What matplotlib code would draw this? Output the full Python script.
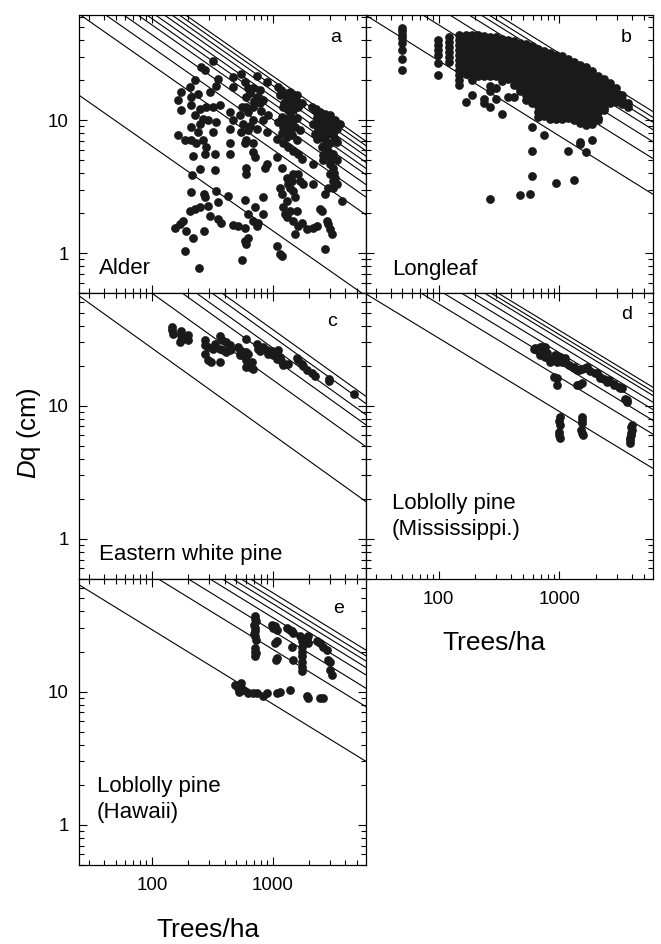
import numpy as np
import matplotlib
matplotlib.use("Agg")
import matplotlib.pyplot as plt
from matplotlib.ticker import FixedLocator, NullFormatter, LogLocator, FuncFormatter

plt.rcParams['font.family'] = ['Liberation Sans', 'DejaVu Sans']
plt.rcParams['mathtext.fontset'] = 'custom'
plt.rcParams['mathtext.it'] = 'Liberation Sans:italic'
plt.rcParams['mathtext.rm'] = 'Liberation Sans'

# ---------------- data: (trees/ha, Dq cm) ----------------
alder = [
    (321, 27.9), (257, 25.3), (274, 23.9), (226, 20.1), (206, 17.7), (353, 20.6), (342, 18.1),
    (164, 14.3), (175, 16.4), (212, 15.0), (241, 15.9), (301, 16.4), (175, 11.9), (212, 13.0),
    (249, 12.2), (283, 12.6), (321, 12.6), (365, 13.0), (226, 10.9), (265, 10.3), (292, 10.0),
    (342, 9.7), (212, 8.9), (249, 9.4), (241, 8.2), (321, 8.2), (164, 7.7), (187, 7.1), (212, 7.1),
    (265, 7.1), (233, 6.7), (283, 6.3), (219, 5.4), (274, 5.6), (332, 5.6), (249, 4.3), (332, 4.2),
    (216, 3.9), (212, 2.87), (269, 2.79), (342, 2.96), (274, 2.63), (206, 2.09), (226, 2.15),
    (249, 2.21), (292, 2.28), (353, 2.41), (301, 1.91), (353, 1.81), (377, 1.70), (154, 1.56),
    (170, 1.66), (181, 1.75), (219, 1.31), (187, 1.04), (246, 0.78), (269, 1.47), (193, 1.47),
    (471, 21.3), (552, 22.5), (589, 19.5), (471, 17.9), (628, 17.4), (746, 21.5), (892, 19.5),
    (691, 17.4), (785, 16.9), (608, 15.0), (736, 15.0), (836, 14.2), (608, 12.6), (691, 12.6),
    (442, 11.6), (535, 10.9), (628, 11.6), (785, 13.4), (471, 10.0), (570, 9.4), (691, 10.0),
    (836, 10.0), (920, 10.9), (442, 8.6), (552, 8.2), (628, 8.4), (736, 8.6), (892, 8.2),
    (608, 7.1), (691, 6.7), (442, 6.7), (589, 6.7), (691, 5.8), (713, 5.3), (608, 4.4), (892, 4.7),
    (864, 4.4), (608, 3.95), (442, 5.6), (589, 2.51), (836, 2.63), (713, 2.21), (836, 1.97),
    (628, 1.97), (518, 1.61), (589, 1.56), (691, 1.75), (736, 1.61), (760, 1.70), (471, 1.64),
    (428, 2.71), (628, 1.31), (589, 1.24), (608, 1.17), (563, 0.885),
    (650, 16.0), (700, 14.0), (560, 12.5), (800, 11.8), (650, 9.0),
    (1115, 17.9), (1166, 16.9), (1266, 15.9), (1394, 16.4), (1485, 15.0), (1307, 14.2), (1439, 13.4),
    (1227, 12.6), (1350, 11.9), (1485, 11.9), (1188, 10.6), (1307, 10.3), (1485, 10.0), (1635, 12.6),
    (1742, 13.4), (1227, 8.9), (1394, 8.4), (1533, 8.9), (1307, 7.5), (1439, 7.7), (1583, 7.1),
    (1227, 6.7), (1350, 6.3), (1485, 5.9), (1635, 5.6), (1080, 7.3), (1080, 5.3), (1188, 4.4),
    (1307, 3.7), (1439, 3.5), (1485, 3.95), (1635, 3.95), (1350, 3.3), (1394, 3.1), (1485, 2.96),
    (1151, 3.1), (1188, 2.79), (1307, 2.48), (1533, 2.63), (1227, 2.21), (1394, 2.09), (1583, 2.09),
    (1266, 1.97), (1307, 1.86), (1485, 1.75), (1635, 1.61), (1742, 1.70), (1533, 1.39), (1080, 1.14),
    (1151, 0.98), (1188, 0.95), (1742, 5.1), (1798, 3.3), (1688, 3.5),
    (1150, 15.5), (1250, 13.5), (1400, 12.8), (1550, 14.0), (1300, 9.5), (1450, 9.2), (1600, 10.5),
    (1200, 8.0), (1350, 7.8), (1700, 8.5), (1100, 9.8), (1600, 15.5), (1400, 10.8),
    (2109, 12.6), (2248, 11.9), (2475, 11.6), (2723, 11.2), (2997, 10.9), (3297, 10.0), (3514, 9.2),
    (2321, 10.6), (2555, 10.0), (2811, 9.7), (3093, 9.2), (3404, 8.6), (2178, 9.4), (2396, 8.6),
    (2638, 8.2), (2902, 7.9), (3194, 7.9), (2248, 7.9), (2475, 7.5), (2723, 7.1), (2997, 6.7),
    (2555, 6.3), (2902, 5.9), (3194, 5.6), (2638, 5.0), (2178, 4.7), (2997, 4.7), (3194, 4.4),
    (2997, 3.95), (3194, 3.5), (2902, 3.1), (2723, 2.79), (2178, 3.3), (3194, 3.1), (3404, 3.3),
    (3745, 2.48), (2475, 2.15), (2555, 2.09), (2811, 1.75), (2902, 1.66), (2997, 1.52), (2723, 1.07),
    (2178, 1.56), (2321, 1.61), (1917, 1.52), (3093, 1.39), (3297, 3.7), (3404, 6.9), (3628, 9.4),
    (2300, 12.2), (2600, 11.0), (2850, 10.5), (3000, 9.8), (3300, 9.0), (2400, 9.5), (2700, 8.8),
    (3100, 8.2), (2350, 7.2), (2800, 6.5), (3300, 7.2), (2600, 5.5), (3400, 5.0), (3000, 5.3),
    (3200, 4.0),
]

# longleaf: trees/ha -> Dq values measured at that density
longleaf_columns = {
    50: [49.3, 46.6, 43.9, 41.4, 37.9, 33.8, 28.7, 23.9],
    98: [40.3, 36.9, 33.8, 31.0, 26.8, 21.9],
    123: [42.6, 39.0, 35.8, 32.8, 30.1, 27.6],
    147: [43.9, 40.3, 36.9, 33.8, 31.0, 28.4, 26.0, 23.9, 21.9, 20.1, 18.4],
    170: [43.9, 40.0, 36.7, 33.0, 29.8, 26.8, 24.2, 22.5, 13.8],
    190: [43.9, 40.0, 36.7, 33.0, 29.8, 26.8, 24.2, 21.8, 20.1, 15.5],
    213: [43.5, 39.5, 36.0, 32.5, 29.5, 26.5, 24.0, 21.5],
    239: [43.0, 39.0, 35.5, 32.0, 29.0, 26.0, 23.5, 21.5, 14.5, 13.4],
    268: [42.5, 38.5, 35.0, 32.0, 29.0, 26.0, 23.5, 21.5, 18.0, 16.5, 12.5, 2.56],
    301: [42.0, 38.0, 34.5, 31.5, 28.5, 26.0, 23.5, 21.5, 17.5, 14.5],
    337: [41.0, 37.0, 34.0, 31.0, 28.0, 25.5, 23.0, 21.0, 19.8, 11.2],
    378: [40.0, 36.5, 33.0, 30.0, 27.5, 25.0, 22.5, 20.5, 15.0],
    424: [39.5, 36.0, 32.5, 29.5, 27.0, 24.5, 22.0, 20.0, 18.5, 15.0],
    469: [2.74],
    475: [38.5, 35.0, 32.0, 29.0, 26.5, 24.0, 21.5, 19.5, 17.5, 16.5],
    533: [37.5, 34.0, 31.0, 28.0, 25.5, 23.0, 21.0, 19.0, 17.0, 15.5, 14.2],
    575: [2.79],
    597: [36.5, 33.0, 30.0, 27.5, 25.0, 22.5, 20.5, 18.5, 16.7, 15.0, 13.5, 8.9, 5.9, 3.84],
    670: [34.5, 31.5, 28.5, 26.0, 23.5, 21.5, 19.5, 17.5, 15.8, 14.3, 12.9, 11.6, 10.6],
    751: [33.0, 30.0, 27.0, 24.5, 22.0, 20.0, 18.0, 16.3, 14.7, 13.3, 12.0, 10.8, 7.8],
    842: [32.0, 29.0, 26.0, 23.5, 21.5, 19.5, 17.5, 15.8, 14.3, 12.9, 11.6, 10.3],
    944: [31.0, 28.0, 25.5, 23.0, 21.0, 19.0, 17.0, 15.4, 13.9, 12.5, 11.3, 10.2, 3.4],
    1059: [30.5, 27.5, 25.0, 22.5, 20.5, 18.5, 16.7, 15.0, 13.6, 12.3, 11.0, 10.3],
    1187: [29.0, 26.5, 24.0, 21.5, 19.5, 17.5, 15.8, 14.3, 12.9, 11.6, 10.4, 5.9],
    1331: [27.5, 25.0, 22.5, 20.5, 18.5, 16.7, 15.0, 13.6, 12.3, 11.0, 10.0, 3.55],
    1493: [26.0, 23.5, 21.5, 19.5, 17.5, 15.8, 14.3, 12.9, 11.6, 10.5, 9.6, 6.9, 6.67],
    1674: [25.0, 22.5, 20.5, 18.5, 16.7, 15.0, 13.6, 12.3, 11.0, 10.0, 9.3, 5.76],
    1877: [23.5, 21.5, 19.5, 17.5, 15.8, 14.3, 12.9, 11.6, 10.5, 9.4, 7.1],
    2105: [21.5, 19.5, 17.5, 15.8, 14.3, 12.9, 11.6, 10.5, 10.0],
    2360: [20.5, 18.5, 16.7, 15.0, 13.6, 12.3, 11.9],
    2647: [19.0, 17.0, 15.4, 14.1, 13.5],
    2968: [17.5, 15.8, 14.5, 13.8],
    3328: [15.5, 14.2, 13.2],
    3731: [13.6, 12.6],
}

white_pine = [
    (147.5, 39.4), (147.5, 36.8), (149, 34.4), (175, 36.4), (175, 33.8), (175, 31.0), (199, 33.8),
    (199, 31.0), (170, 30.1), (274, 31.0), (274, 28.4), (292, 27.6), (321, 26.8), (274, 24.4),
    (292, 22.2), (311, 21.3), (365, 21.3), (365, 33.2), (384, 31.4), (415, 30.1), (442, 28.4),
    (365, 26.8), (390, 26.1), (415, 25.4), (442, 26.4), (456, 26.8), (518, 27.6), (535, 26.1),
    (570, 25.4), (608, 25.4), (628, 24.6), (535, 23.9), (589, 23.3), (608, 22.0), (628, 20.7),
    (608, 19.6), (648, 19.4), (691, 19.0), (600, 31.9), (736, 29.3), (760, 26.8), (785, 25.8),
    (836, 27.6), (892, 26.1), (920, 24.6), (981, 25.8), (1115, 26.1), (1013, 23.9), (1080, 22.6),
    (1151, 23.3), (1188, 21.3), (1227, 20.1), (1350, 20.5), (1080, 25.4), (1583, 23.0), (1635, 22.0),
    (1742, 20.7), (1798, 19.8), (1917, 18.7), (2109, 17.5), (2248, 16.7), (2958, 16.0), (2958, 15.4),
    (4742, 12.2), (669, 21.3), (332, 29.3),
]

loblolly_ms = [
    (613, 26.8), (653, 26.1), (718, 27.8), (751, 26.4), (696, 23.9), (766, 23.3), (790, 24.9),
    (869, 22.0), (927, 23.9), (956, 21.3), (1019, 22.7), (1052, 21.3), (1121, 22.2), (1195, 20.3),
    (1315, 19.6), (1401, 18.5), (1541, 19.0), (1696, 19.6), (1806, 18.1), (1988, 17.6), (2187, 16.5),
    (2330, 16.0), (2564, 15.6), (2820, 14.7), (3102, 13.9), (3306, 13.5), (3524, 11.3), (3637, 10.7),
    (897, 16.5), (956, 16.1), (956, 14.4), (1401, 14.4), (1541, 14.8), (1446, 14.3),
    (632, 27.0), (696, 27.8), (766, 27.8), (718, 24.8), (790, 23.4), (842, 21.5), (927, 22.2),
    (1019, 23.4), (1121, 22.7), (1315, 19.1), (1446, 18.6), (1642, 19.1), (2052, 17.6), (2187, 16.1),
    (2483, 15.2), (2820, 14.4), (3203, 13.6), (3637, 11.1),
    (1019, 8.27), (1019, 7.17), (987, 6.39), (1006, 5.70), (1000, 7.7), (990, 6.0),
    (1541, 8.27), (1541, 7.38), (1512, 6.58), (1571, 6.03), (1550, 7.8), (1540, 6.3),
    (4000, 7.17), (4000, 6.58), (3925, 6.03), (3876, 5.53), (3827, 5.23), (3950, 6.9), (3900, 6.3),
    (3850, 5.75),
]

loblolly_hi = [
    (713, 36.8), (727, 33.7), (700, 31.8), (713, 30.0), (713, 28.3), (713, 26.0), (727, 24.5),
    (713, 21.2), (727, 19.5), (713, 18.4), (720, 35.0), (705, 27.0), (720, 20.0),
    (981, 31.8), (1046, 30.9), (1080, 29.2), (1013, 30.0), (1046, 23.1), (1080, 23.8), (1080, 17.8),
    (1066, 17.3), (1307, 30.0), (1394, 29.2), (1439, 28.3), (1485, 27.5), (1439, 21.8), (1485, 17.3),
    (1688, 26.0), (1742, 25.2), (1742, 23.8), (1742, 21.8), (1742, 20.0), (1742, 18.4), (1742, 16.8),
    (1742, 15.4), (1742, 14.2), (1776, 24.5), (1979, 26.0), (1917, 24.5), (1979, 23.1),
    (2321, 23.8), (2475, 23.1), (2638, 21.8), (2811, 20.6), (2902, 17.3), (2997, 14.6), (3093, 13.4),
    (2997, 16.8),
    (486, 11.2), (518, 10.6), (552, 11.7), (570, 10.3), (628, 9.8), (691, 9.7), (736, 9.8),
    (836, 9.2), (892, 9.7), (1080, 9.8), (1151, 10.0), (1394, 10.2), (1917, 9.2), (1979, 8.9),
    (2475, 8.9), (2638, 8.9), (528, 10.0),
]

# reference lines: Dq (cm) at 1000 trees/ha, and common slope per species
alder_lines = [1.48, 6.04, 8.21, 10.2, 12.1, 13.5, 15.0, 16.7, 18.3, 20.0, 21.6]
alder_slope = -0.635
longleaf_lines = [7.64, 14.2, 19.0, 23.4, 26.6, 29.0, 32.0]
longleaf_slope = -0.566
white_pine_lines = [6.07, 15.7, 22.9, 27.3, 33.1, 37.5]
white_pine_slope = -0.65
loblolly_ms_lines = [9.07, 16.4, 20.8, 25.1, 28.5, 32.0, 34.3, 36.9]
loblolly_ms_slope = -0.551
loblolly_hi_lines = [8.09, 20.8, 28.6, 36.0, 41.0, 45.8, 50.1, 55.3]
loblolly_hi_slope = -0.557

panel_names = ["Alder", "Longleaf", "Eastern white pine",
               "Loblolly pine\n(Mississippi.)", "Loblolly pine\n(Hawaii)"]
panel_letters = ["a", "b", "c", "d", "e"]

longleaf = [(n, d) for n, ds in longleaf_columns.items() for d in ds]

# ---------------- figure ----------------
W, H = 661, 944
fig = plt.figure(figsize=(W / 100, H / 100), dpi=100)


def add_ax(x0, y0, x1, y1):
    return fig.add_axes([x0 / W, 1 - y1 / H, (x1 - x0) / W, (y1 - y0) / H])


ax_a = add_ax(79.3, 15, 366, 293.3)
ax_b = add_ax(366, 15, 652.7, 293.3)
ax_c = add_ax(79.3, 293.3, 366, 579)
ax_d = add_ax(366, 293.3, 652.7, 579)
ax_e = add_ax(79.3, 579, 366, 865)

panels = [
    (ax_a, alder, alder_lines, alder_slope, 62),
    (ax_b, longleaf, longleaf_lines, longleaf_slope, 62),
    (ax_c, white_pine, white_pine_lines, white_pine_slope, 70),
    (ax_d, loblolly_ms, loblolly_ms_lines, loblolly_ms_slope, 70),
    (ax_e, loblolly_hi, loblolly_hi_lines, loblolly_hi_slope, 70),
]

letter_pos = [(0.895, 0.904), (0.909, 0.904), (0.881, 0.886), (0.909, 0.911), (0.904, 0.882)]
name_pos = [(0.07, 0.068), (0.09, 0.065), (0.07, 0.066), (0.09, 0.154), (0.061, 0.164)]

fmt = FuncFormatter(lambda v, p: f"{v:g}")
nline = np.array([10.0, 10000.0])

for i, (ax, pts, lines, slope, ytop) in enumerate(panels):
    ax.set_xscale('log')
    ax.set_yscale('log')
    for d1000 in lines:
        ax.plot(nline, d1000 * (nline / 1000.0) ** slope, color='black', lw=0.8, zorder=1)
    n = [p[0] for p in pts]
    d = [p[1] for p in pts]
    ax.plot(n, d, 'o', ms=6.3, mew=0, color='#1a1a1a', zorder=2)
    ax.set_xlim(25, 5950)
    ax.set_ylim(0.5, ytop)
    ax.xaxis.set_major_locator(FixedLocator([100, 1000]))
    ax.xaxis.set_minor_locator(LogLocator(base=10, subs=np.arange(2, 10), numticks=20))
    ax.yaxis.set_major_locator(FixedLocator([1, 10]))
    ax.yaxis.set_minor_locator(LogLocator(base=10, subs=np.arange(2, 10), numticks=20))
    ax.xaxis.set_major_formatter(fmt)
    ax.yaxis.set_major_formatter(fmt)
    ax.xaxis.set_minor_formatter(NullFormatter())
    ax.yaxis.set_minor_formatter(NullFormatter())
    ax.tick_params(which='both', direction='in', top=True, right=True, width=0.8,
                   labelsize=13.5)
    ax.tick_params(which='major', length=6)
    ax.tick_params(which='minor', length=3.5)
    ax.tick_params(axis='x', pad=9)
    ax.tick_params(axis='y', pad=7.5)
    for sp in ax.spines.values():
        sp.set_linewidth(0.9)
    ax.tick_params(labelleft=(ax in (ax_a, ax_c, ax_e)),
                   labelbottom=(ax in (ax_d, ax_e)))
    lx, ly = letter_pos[i]
    ax.text(lx, ly, panel_letters[i], transform=ax.transAxes, fontsize=14,
            ha='center', va='baseline')
    nx, ny = name_pos[i]
    ax.text(nx, ny, panel_names[i], transform=ax.transAxes, fontsize=16,
            ha='left', va='baseline', linespacing=1.3)

fig.text(29 / W, 1 - 433 / H, r"$\mathit{D}$q (cm)", rotation=90, fontsize=18.5,
         ha='center', va='center')
fig.text(208 / W, 1 - 918 / H, "Trees/ha", fontsize=19, ha='center', va='top')
fig.text(494 / W, 1 - 631.5 / H, "Trees/ha", fontsize=19, ha='center', va='top')

fig.savefig("out.png", dpi=100)
